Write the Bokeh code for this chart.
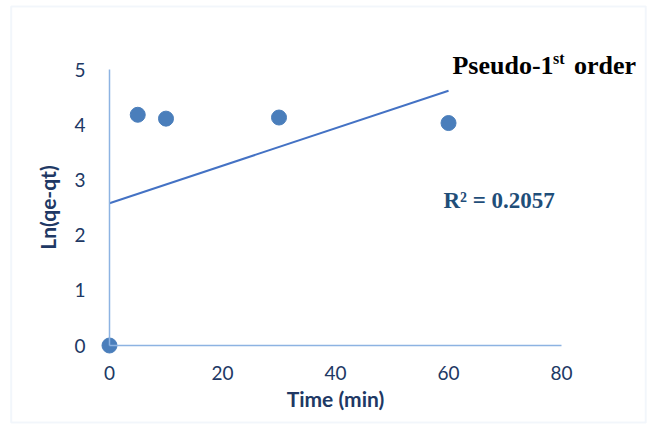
import numpy as np
from bokeh.plotting import figure
from bokeh.models import Range1d, FixedTicker, Label, BoxAnnotation
from bokeh.embed import file_html
from bokeh.resources import INLINE

# Data
time_min = [0, 5, 10, 30, 60]
ln_qe_qt = [0.0, 4.18, 4.11, 4.13, 4.03]
x_ticks = [0, 20, 40, 60, 80]
y_ticks = [0, 1, 2, 3, 4, 5]
r2_text = "R² = 0.2057"
title_main = "Pseudo-1"
title_sup = "st"
title_rest = "order"

# linear (least-squares) trendline of the series
slope, intercept = np.polyfit(time_min, ln_qe_qt, 1)
trend_x = [min(time_min), max(time_min)]
trend_y = [intercept + slope * v for v in trend_x]

W, H = 652, 424
p = figure(width=W, height=H, output_backend="svg", toolbar_location=None,
           x_range=Range1d(-19.29, 96.1), y_range=Range1d(-1.431, 6.25),
           min_border=0)
p.grid.visible = False
p.outline_line_color = None
p.background_fill_color = "white"
p.border_fill_color = "white"

axis_col = "#8DB3E2"
lab_col = "#203864"
tick_font = "Lato"
for ax in (p.xaxis[0], p.yaxis[0]):
    ax.fixed_location = 0
    ax.axis_line_color = axis_col
    ax.axis_line_width = 1.5
    ax.major_tick_line_color = None
    ax.minor_tick_line_color = None
    ax.major_tick_out = 0
    ax.major_tick_in = 0
    ax.minor_tick_out = 0
    ax.minor_tick_in = 0
    ax.major_label_text_font = tick_font
    ax.major_label_text_font_size = "19px"
    ax.major_label_text_color = lab_col
    ax.axis_label_text_font = tick_font
    ax.axis_label_text_font_style = "bold"
    ax.axis_label_text_font_size = "21px"
    ax.axis_label_text_color = lab_col

p.xaxis.bounds = (x_ticks[0], x_ticks[-1])
p.yaxis.bounds = (y_ticks[0], y_ticks[-1])
p.xaxis.ticker = FixedTicker(ticks=x_ticks)
p.yaxis.ticker = FixedTicker(ticks=y_ticks)
p.xaxis.major_label_standoff = 20
p.yaxis.major_label_standoff = 24
p.xaxis.axis_label = "Time (min)"
p.yaxis.axis_label = "Ln(qe-qt)"
p.xaxis.axis_label_standoff = 3
p.yaxis.axis_label_standoff = 11

# chart-area border
p.add_layout(BoxAnnotation(left=-17.4, right=94.9, top=6.14, bottom=-1.395,
                           fill_color=None, line_color="#D3E0F1", line_width=2))

p.line(trend_x, trend_y, line_color="#4472C4", line_width=2)
p.scatter(time_min, ln_qe_qt, size=15, fill_color="#4A7EBB", line_color="#4A7EBB")

tfont = "Liberation Serif"
p.add_layout(Label(x=60.7, y=5.07, text=title_main, text_baseline="alphabetic",
                   text_font=tfont, text_font_style="bold", text_font_size="26px",
                   text_color="black"))
p.add_layout(Label(x=78.5, y=5.2, text=title_sup, text_baseline="alphabetic",
                   text_font=tfont, text_font_style="bold", text_font_size="16px",
                   text_color="black"))
p.add_layout(Label(x=82.2, y=5.07, text=title_rest, text_baseline="alphabetic",
                   text_font=tfont, text_font_style="bold", text_font_size="26px",
                   text_color="black"))
p.add_layout(Label(x=59.1, y=2.63, text=r2_text, text_baseline="alphabetic",
                   text_font=tfont, text_font_style="bold", text_font_size="23px",
                   text_color="#1F4E79"))

open("out.html", "w").write(file_html(p, INLINE))
